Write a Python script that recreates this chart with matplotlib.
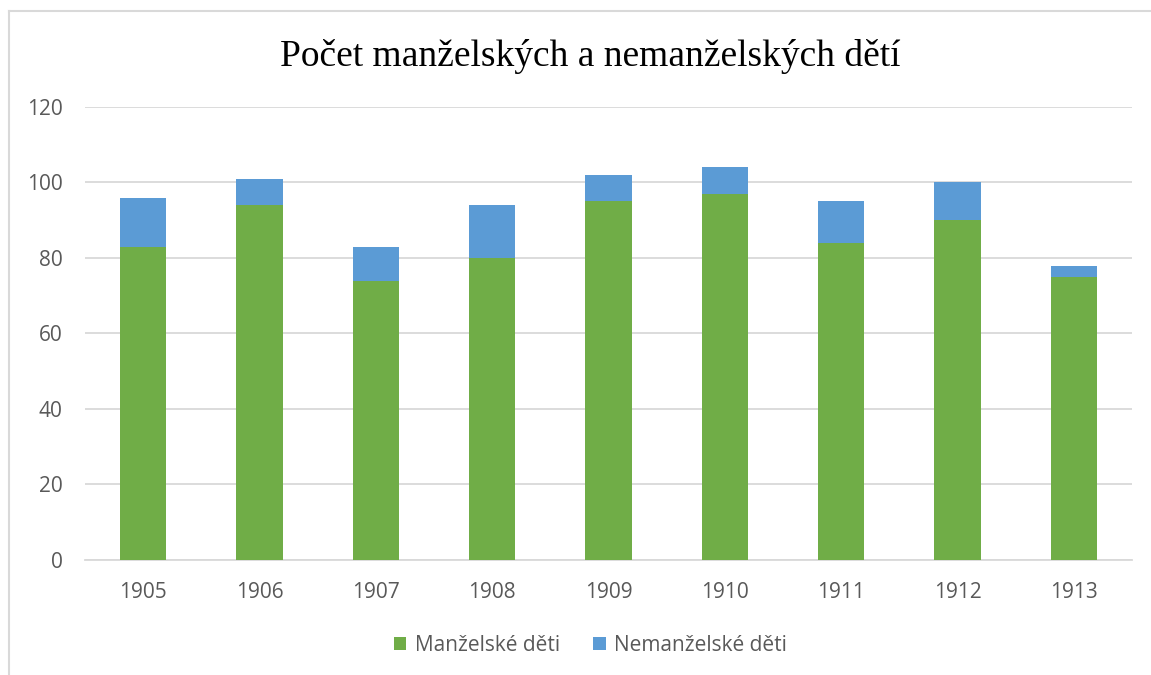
import matplotlib.pyplot as plt
from matplotlib.lines import Line2D

# data
roky = ["1905", "1906", "1907", "1908", "1909", "1910", "1911", "1912", "1913"]
manzelske = [83, 94, 74, 80, 95, 97, 84, 90, 75]
nemanzelske = [13, 7, 9, 14, 7, 7, 11, 10, 3]

zelena = "#70AD47"
modra = "#5B9BD5"
seda = "#595959"

fig = plt.figure(figsize=(11.51, 6.75), dpi=100)
ax = fig.add_axes([0.0738, 0.1704, 0.9097, 0.6711])

x = range(len(roky))
ax.bar(x, manzelske, width=0.4, color=zelena, label="Manželské děti", zorder=3)
ax.bar(x, nemanzelske, width=0.4, bottom=manzelske, color=modra,
       label="Nemanželské děti", zorder=3)

ax.set_xlim(-0.5, len(roky) - 0.5)
ax.set_ylim(0, 120)
ax.set_yticks(range(0, 121, 20))
ax.set_xticks(list(x))
ax.set_xticklabels(roky)
ax.grid(axis="y", color="#D9D9D9", linewidth=1.3, zorder=0)
for s in ["top", "right", "left"]:
    ax.spines[s].set_visible(False)
ax.spines["bottom"].set_color("#D9D9D9")
ax.spines["bottom"].set_linewidth(1.3)
ax.tick_params(axis="both", length=0, labelsize=15, labelcolor=seda,
               labelfontfamily="Open Sans")
ax.tick_params(axis="y", pad=16)
ax.tick_params(axis="x", pad=16)

fig.text(0.5125, 0.916, "Počet manželských a nemanželských dětí",
         ha="center", va="center", fontsize=27, family="Liberation Serif")

leg = fig.legend(loc="center", bbox_to_anchor=(0.513, 0.044), ncol=2,
                 frameon=False, handlelength=0.6, handleheight=0.6,
                 handletextpad=0.4, columnspacing=1.6,
                 prop={"family": "Open Sans", "size": 15})
for t in leg.get_texts():
    t.set_color(seda)

# outer chart border (left and top only visible)
fig.add_artist(Line2D([0.0078, 0.0078], [0, 0.984], color="#D9D9D9", lw=1.5,
                      transform=fig.transFigure))
fig.add_artist(Line2D([0.0078, 1.0], [0.984, 0.984], color="#D9D9D9", lw=1.5,
                      transform=fig.transFigure))

fig.savefig("out.png", dpi=100)
